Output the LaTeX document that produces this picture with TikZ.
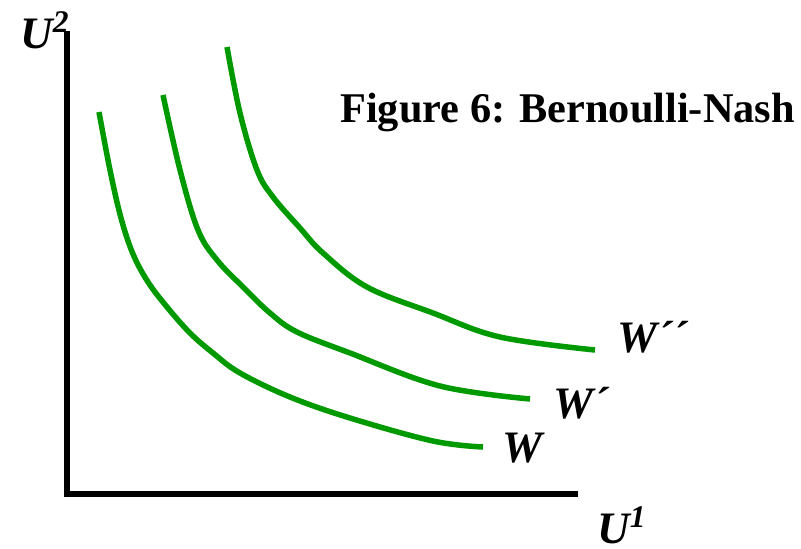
\documentclass[tikz,border=0pt]{standalone}
\usepackage{fontspec}
\setmainfont{Liberation Serif}
\definecolor{curvegreen}{RGB}{0,153,0}

\begin{document}
\begin{tikzpicture}[
    x=0.02cm, y=-0.02cm,
    every node/.style={inner sep=0pt, font=\fontsize{25.6}{30}\selectfont\bfseries},
    lbl/.style={anchor=base west, font=\fontsize{25.6}{30}\selectfont\bfseries\itshape},
    wcurve/.style={curvegreen, line width=0.11cm, line cap=butt}
]
\useasboundingbox (0,0) rectangle (801,548);

% --- Axes ---
\coordinate (top) at (67,31);
\coordinate (origin) at (67,494);
\coordinate (right) at (578,494);
\draw[line width=0.12cm] (top) -- (origin) -- (right);

% --- Axis labels ---
\node[lbl] (u2) at (20,48) {U\textsuperscript{2}};
\node[lbl] (u1) at (597,543) {U\textsuperscript{1}};

% --- Title ---
\node[anchor=base west, font=\fontsize{24.1}{28}\selectfont\bfseries] (title)
    at (340,122) {Figure 6: Bernoulli-Nash};

% --- Welfare curves ---
\draw[wcurve] plot[smooth, tension=0.6] coordinates {
    (99,112) (110,170) (121,218) (133,254) (148,282) (167,307) (190,333)
    (213,353) (240,373) (290,397) (350,418) (433,441) (483,447)};
\draw[wcurve] plot[smooth, tension=0.6] coordinates {
    (163,95) (180,170) (198,230) (217,260) (243,287) (270,313) (297,332)
    (350,353) (440,386) (530,399)};
\draw[wcurve] plot[smooth, tension=0.6] coordinates {
    (227,47) (240,113) (257,170) (273,197) (300,228) (323,253) (367,287)
    (433,313) (500,337) (595,350)};

% --- Curve labels ---
\node[lbl] (w0) at (502,462) {W};
\node[lbl] (w1) at (553,418) {W´};
\node[lbl] (w2) at (617,352) {W´´};

\end{tikzpicture}
\end{document}
